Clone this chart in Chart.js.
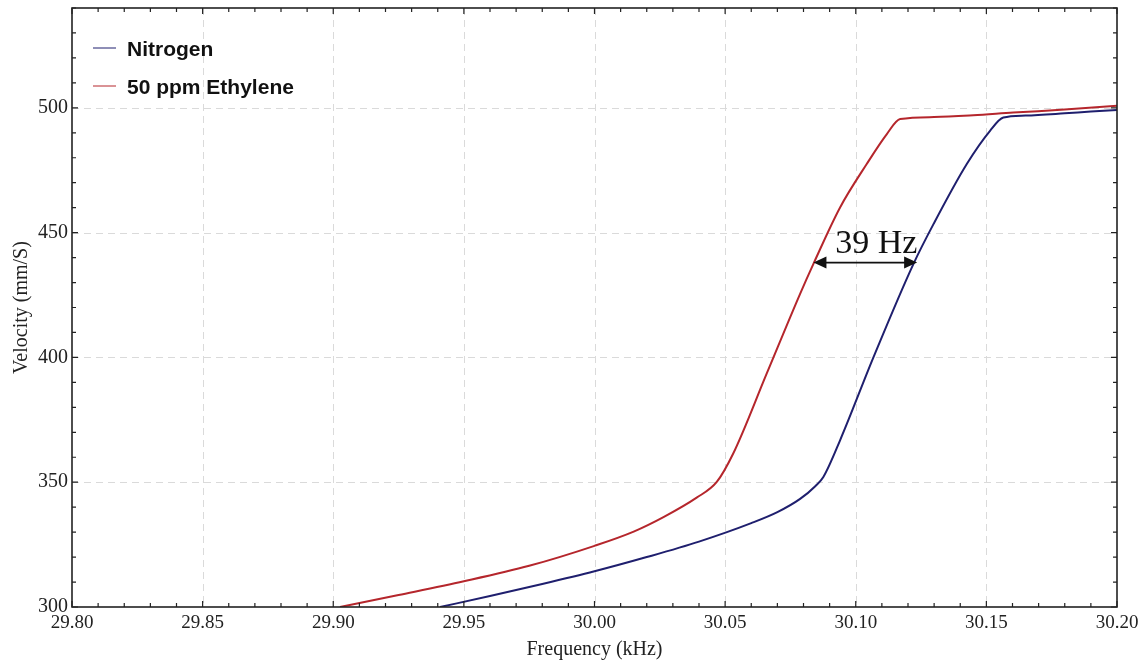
<!DOCTYPE html>
<html>
<head>
<meta charset="utf-8">
<title>Velocity vs Frequency</title>
<script src="https://cdn.jsdelivr.net/npm/chart.js@4.4.1/dist/chart.umd.min.js"></script>
<style>
  html, body { margin: 0; padding: 0; background: #fff; }
  #wrap { width: 1143px; height: 662px; position: relative; }
</style>
</head>
<body>
<div id="wrap"><canvas id="chart"></canvas></div>
<script>
// ===== data =====
const nitrogenFreq = [29.9409, 29.96, 29.98, 30.00, 30.02, 30.04, 30.06, 30.07, 30.0787, 30.0846, 30.0876, 30.094, 30.1068, 30.1221, 30.1298, 30.1425, 30.1514, 30.1565, 30.165, 30.18, 30.19, 30.20];
const nitrogenVel  = [300, 304.4, 309.2, 314.3, 320, 326.2, 333.6, 338, 343.3, 348.5, 352.1, 366.8, 400.1, 437.5, 453.5, 477.5, 490.8, 496.1, 496.9, 497.8, 498.5, 499.1];

const ethyleneFreq = [29.9026, 29.925, 29.95, 29.975, 30.00, 30.015, 30.0264, 30.0391, 30.0468, 30.0531, 30.0659, 30.0787, 30.0838, 30.094, 30.1042, 30.1119, 30.117, 30.13, 30.145, 30.1603, 30.18, 30.20];
const ethyleneVel  = [300, 304.8, 310.3, 316.5, 324.5, 330.2, 336, 343.8, 350.1, 361.5, 393.5, 425.5, 437.5, 460.1, 477.5, 489.5, 495.5, 496.3, 497, 498.1, 499.3, 500.8];

const seriesLabels = ['Nitrogen', '50 ppm Ethylene'];
const seriesColors = ['#1f1f6e', '#b5262c'];

// frequency shift annotation
const shiftText = '39 Hz';
const shiftFrom = 30.0838;
const shiftTo = 30.1235;
const shiftVel = 438;

// ===== helpers =====
function toPoints(xs, ys) {
    return xs.map((x, i) => ({ x: x, y: ys[i] }));
}

function isMajorX(v) {
    return Math.abs(v / 0.05 - Math.round(v / 0.05)) < 1e-6;
}

function isMajorY(v) {
    return Math.abs(v % 50) < 1e-6;
}

// ===== plugins =====
const gridLines = {
    id: 'gridLines',
    beforeDatasetsDraw(chart) {
        const { ctx, chartArea: a, scales: { x, y } } = chart;
        ctx.save();
        ctx.strokeStyle = '#dadada';
        ctx.lineWidth = 1;
        ctx.setLineDash([7, 5]);
        x.ticks.forEach(t => {
            if (!isMajorX(t.value)) return;
            const px = Math.round(x.getPixelForValue(t.value)) + 0.5;
            if (px <= a.left + 2 || px >= a.right - 2) return;
            ctx.beginPath();
            ctx.moveTo(px, a.top);
            ctx.lineTo(px, a.bottom);
            ctx.stroke();
        });
        y.ticks.forEach(t => {
            if (!isMajorY(t.value)) return;
            const py = Math.round(y.getPixelForValue(t.value)) + 0.5;
            if (py <= a.top + 2 || py >= a.bottom - 2) return;
            ctx.beginPath();
            ctx.moveTo(a.left, py);
            ctx.lineTo(a.right, py);
            ctx.stroke();
        });
        ctx.restore();
    }
};

const frameTicks = {
    id: 'frameTicks',
    afterDatasetsDraw(chart) {
        const { ctx, chartArea: a, scales: { x, y } } = chart;
        ctx.save();
        ctx.strokeStyle = '#222';
        ctx.lineWidth = 1.2;
        ctx.setLineDash([]);
        x.ticks.forEach(t => {
            const px = x.getPixelForValue(t.value);
            const len = isMajorX(t.value) ? 6 : 4;
            ctx.beginPath();
            ctx.moveTo(px, a.bottom);
            ctx.lineTo(px, a.bottom - len);
            ctx.moveTo(px, a.top);
            ctx.lineTo(px, a.top + len);
            ctx.stroke();
        });
        y.ticks.forEach(t => {
            const py = y.getPixelForValue(t.value);
            const len = isMajorY(t.value) ? 6 : 4;
            ctx.beginPath();
            ctx.moveTo(a.left, py);
            ctx.lineTo(a.left + len, py);
            ctx.moveTo(a.right, py);
            ctx.lineTo(a.right - len, py);
            ctx.stroke();
        });
        ctx.lineWidth = 1.6;
        ctx.strokeRect(a.left, a.top, a.right - a.left, a.bottom - a.top);
        ctx.restore();
    }
};

const shiftArrow = {
    id: 'shiftArrow',
    afterDatasetsDraw(chart) {
        const { ctx, scales: { x, y } } = chart;
        const x1 = x.getPixelForValue(shiftFrom);
        const x2 = x.getPixelForValue(shiftTo);
        const py = y.getPixelForValue(shiftVel);
        const head = 13, half = 6;

        ctx.save();
        ctx.strokeStyle = '#111';
        ctx.fillStyle = '#111';
        ctx.lineWidth = 1.6;
        ctx.beginPath();
        ctx.moveTo(x1 + head - 2, py);
        ctx.lineTo(x2 - head + 2, py);
        ctx.stroke();

        ctx.beginPath();
        ctx.moveTo(x1, py);
        ctx.lineTo(x1 + head, py - half);
        ctx.lineTo(x1 + head, py + half);
        ctx.closePath();
        ctx.fill();

        ctx.beginPath();
        ctx.moveTo(x2, py);
        ctx.lineTo(x2 - head, py - half);
        ctx.lineTo(x2 - head, py + half);
        ctx.closePath();
        ctx.fill();

        ctx.font = '34px "Liberation Serif", "Times New Roman", serif';
        ctx.textAlign = 'center';
        ctx.textBaseline = 'alphabetic';
        ctx.fillText(shiftText, (x1 + x2) / 2 + 11, py - 10);
        ctx.restore();
    }
};

const innerLegend = {
    id: 'innerLegend',
    afterDatasetsDraw(chart) {
        const { ctx, chartArea: a } = chart;
        ctx.save();
        ctx.font = 'bold 21px "Liberation Sans", Arial, sans-serif';
        ctx.textBaseline = 'middle';
        ctx.textAlign = 'left';
        chart.data.datasets.forEach((ds, i) => {
            const cy = a.top + 40 + i * 38;
            ctx.strokeStyle = ds.borderColor;
            ctx.lineWidth = 1;
            ctx.beginPath();
            ctx.moveTo(a.left + 21, cy);
            ctx.lineTo(a.left + 44, cy);
            ctx.stroke();
            ctx.fillStyle = '#111';
            ctx.fillText(ds.label, a.left + 55, cy + 2);
        });
        ctx.restore();
    }
};

// ===== chart =====
const serif = '"Liberation Serif", "Times New Roman", serif';

new Chart(document.getElementById('chart'), {
    type: 'scatter',
    data: {
        datasets: [
            {
                label: seriesLabels[0],
                data: toPoints(nitrogenFreq, nitrogenVel),
                borderColor: seriesColors[0],
                backgroundColor: seriesColors[0],
                borderWidth: 2,
                showLine: true,
                pointRadius: 0,
                cubicInterpolationMode: 'monotone'
            },
            {
                label: seriesLabels[1],
                data: toPoints(ethyleneFreq, ethyleneVel),
                borderColor: seriesColors[1],
                backgroundColor: seriesColors[1],
                borderWidth: 2,
                showLine: true,
                pointRadius: 0,
                cubicInterpolationMode: 'monotone'
            }
        ]
    },
    options: {
        responsive: true,
        maintainAspectRatio: false,
        animation: false,
        layout: { padding: { top: 8, right: 26, left: 0, bottom: 0 } },
        plugins: {
            legend: { display: false },
            tooltip: { enabled: false }
        },
        scales: {
            x: {
                type: 'linear',
                min: 29.8,
                max: 30.2,
                afterFit(scale) {
                    scale.height = 55;
                    scale.paddingLeft = 0;
                    scale.paddingRight = 0;
                },
                grid: { display: false, drawTicks: false },
                border: { display: false },
                ticks: {
                    stepSize: 0.01,
                    autoSkip: false,
                    maxRotation: 0,
                    padding: 5,
                    color: '#222',
                    font: { family: serif, size: 19 },
                    callback: v => isMajorX(v) ? v.toFixed(2) : ''
                },
                title: {
                    display: true,
                    text: 'Frequency (kHz)',
                    color: '#222',
                    font: { family: serif, size: 20 },
                    padding: { top: 0, bottom: 0 }
                }
            },
            y: {
                min: 300,
                max: 540,
                afterFit(scale) {
                    scale.width = 72;
                    scale.paddingTop = 0;
                    scale.paddingBottom = 0;
                },
                grid: { display: false, drawTicks: false },
                border: { display: false },
                ticks: {
                    stepSize: 10,
                    autoSkip: false,
                    padding: 4,
                    color: '#222',
                    font: { family: serif, size: 20 },
                    callback: v => isMajorY(v) ? String(v) : ''
                },
                title: {
                    display: true,
                    text: 'Velocity (mm/S)',
                    color: '#222',
                    font: { family: serif, size: 20 },
                    padding: { top: 10, bottom: 0 }
                }
            }
        }
    },
    plugins: [gridLines, frameTicks, shiftArrow, innerLegend]
});
</script>
</body>
</html>
